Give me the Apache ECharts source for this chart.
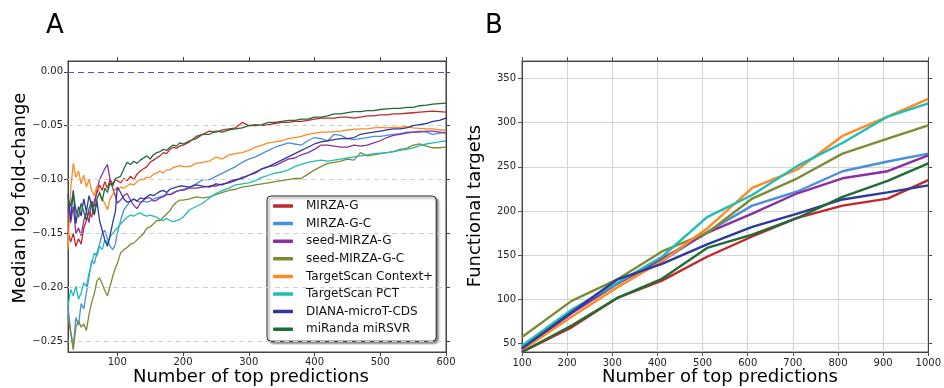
<!DOCTYPE html>
<html>
<head>
<meta charset="utf-8">
<script src="https://cdn.jsdelivr.net/npm/echarts@6/dist/echarts.min.js"></script>
<style>
html,body{margin:0;padding:0;background:#fff;}
#chart{width:944px;height:388px;}
</style>
</head>
<body>
<div id="chart"></div>
<script>
// ---------- Panel A data ----------
const xA = [25,29,33,37,41,45,49,53,57,61,65,69,73,77,81,85,89,93,97,
100,105,110,115,120,125,130,135,140,145,150,155,160,165,170,175,180,185,190,195,200,
210,220,230,240,250,260,270,280,290,300,310,320,330,340,350,360,370,380,390,400,
410,420,430,440,450,460,470,480,490,500,510,520,530,540,550,560,570,580,590,600];

const mirzaG_A = [-0.148,-0.158,-0.150,-0.162,-0.155,-0.160,-0.145,-0.138,-0.130,-0.135,-0.120,-0.112,-0.105,-0.110,-0.102,-0.108,-0.100,-0.104,-0.100,
-0.100,-0.103,-0.099,-0.101,-0.097,-0.100,-0.095,-0.092,-0.090,-0.088,-0.084,-0.082,-0.080,-0.078,-0.075,-0.076,-0.072,-0.070,-0.071,-0.069,-0.068,
-0.065,-0.060,-0.058,-0.055,-0.056,-0.054,-0.053,-0.052,-0.047,-0.050,-0.049,-0.050,-0.049,-0.048,-0.047,-0.047,-0.046,-0.046,-0.045,-0.044,
-0.043,-0.043,-0.043,-0.042,-0.042,-0.043,-0.042,-0.041,-0.041,-0.040,-0.040,-0.039,-0.039,-0.0385,-0.038,-0.0375,-0.037,-0.0365,-0.037,-0.0375];

const mirzaGC_A = [-0.218,-0.240,-0.255,-0.228,-0.235,-0.215,-0.220,-0.205,-0.190,-0.175,-0.178,-0.168,-0.160,-0.150,-0.147,-0.155,-0.162,-0.165,-0.160,
-0.150,-0.138,-0.128,-0.124,-0.120,-0.118,-0.120,-0.121,-0.120,-0.121,-0.120,-0.118,-0.117,-0.116,-0.115,-0.113,-0.114,-0.112,-0.111,-0.110,-0.109,
-0.107,-0.104,-0.100,-0.100,-0.097,-0.094,-0.091,-0.088,-0.084,-0.081,-0.079,-0.076,-0.073,-0.070,-0.068,-0.066,-0.067,-0.068,-0.064,-0.061,
-0.062,-0.064,-0.058,-0.059,-0.062,-0.063,-0.062,-0.061,-0.060,-0.060,-0.059,-0.058,-0.0575,-0.056,-0.056,-0.055,-0.056,-0.058,-0.057,-0.056];

const seedG_A = [-0.128,-0.140,-0.125,-0.150,-0.145,-0.152,-0.138,-0.130,-0.140,-0.120,-0.125,-0.110,-0.100,-0.095,-0.090,-0.086,-0.100,-0.108,-0.115,
-0.122,-0.119,-0.115,-0.113,-0.119,-0.124,-0.127,-0.122,-0.119,-0.117,-0.117,-0.120,-0.119,-0.117,-0.116,-0.114,-0.114,-0.113,-0.111,-0.110,-0.110,
-0.108,-0.108,-0.107,-0.106,-0.106,-0.104,-0.103,-0.101,-0.098,-0.096,-0.094,-0.090,-0.088,-0.087,-0.084,-0.081,-0.080,-0.077,-0.075,-0.072,
-0.068,-0.068,-0.069,-0.070,-0.070,-0.068,-0.069,-0.068,-0.066,-0.064,-0.061,-0.059,-0.058,-0.057,-0.056,-0.056,-0.055,-0.055,-0.056,-0.057];

const seedGC_A = [-0.227,-0.242,-0.258,-0.237,-0.231,-0.237,-0.234,-0.240,-0.225,-0.214,-0.206,-0.194,-0.191,-0.197,-0.203,-0.208,-0.199,-0.190,-0.182,
-0.178,-0.168,-0.165,-0.163,-0.160,-0.159,-0.156,-0.153,-0.150,-0.145,-0.144,-0.141,-0.138,-0.138,-0.135,-0.132,-0.129,-0.124,-0.121,-0.119,-0.119,
-0.118,-0.116,-0.117,-0.116,-0.114,-0.112,-0.110,-0.109,-0.107,-0.106,-0.105,-0.104,-0.103,-0.102,-0.101,-0.100,-0.099,-0.099,-0.095,-0.091,
-0.088,-0.085,-0.084,-0.083,-0.081,-0.082,-0.075,-0.078,-0.077,-0.076,-0.075,-0.074,-0.072,-0.071,-0.068,-0.067,-0.069,-0.0705,-0.0705,-0.070];

const contextPlus_A = [-0.165,-0.110,-0.085,-0.098,-0.092,-0.104,-0.096,-0.107,-0.100,-0.110,-0.115,-0.106,-0.112,-0.118,-0.122,-0.128,-0.118,-0.114,-0.108,
-0.110,-0.107,-0.108,-0.106,-0.104,-0.105,-0.102,-0.100,-0.100,-0.098,-0.098,-0.095,-0.094,-0.092,-0.094,-0.091,-0.091,-0.089,-0.088,-0.087,-0.088,
-0.088,-0.085,-0.084,-0.083,-0.079,-0.081,-0.077,-0.076,-0.075,-0.073,-0.070,-0.068,-0.066,-0.065,-0.064,-0.062,-0.061,-0.060,-0.058,-0.057,
-0.056,-0.056,-0.0555,-0.055,-0.054,-0.0535,-0.053,-0.053,-0.052,-0.0515,-0.052,-0.0515,-0.0515,-0.051,-0.052,-0.0525,-0.053,-0.053,-0.054,-0.054];

const pct_A = [-0.218,-0.202,-0.208,-0.199,-0.211,-0.205,-0.196,-0.199,-0.187,-0.178,-0.168,-0.171,-0.162,-0.165,-0.156,-0.159,-0.153,-0.150,-0.147,
-0.145,-0.141,-0.138,-0.135,-0.133,-0.134,-0.132,-0.131,-0.133,-0.134,-0.133,-0.134,-0.135,-0.137,-0.138,-0.136,-0.138,-0.139,-0.138,-0.137,-0.135,
-0.128,-0.125,-0.122,-0.117,-0.113,-0.110,-0.108,-0.105,-0.104,-0.103,-0.101,-0.098,-0.096,-0.094,-0.093,-0.091,-0.088,-0.086,-0.084,-0.083,
-0.082,-0.083,-0.082,-0.081,-0.080,-0.079,-0.078,-0.077,-0.076,-0.0755,-0.075,-0.074,-0.073,-0.072,-0.0705,-0.0685,-0.067,-0.066,-0.065,-0.064];

const diana_A = [-0.113,-0.138,-0.110,-0.141,-0.125,-0.134,-0.118,-0.130,-0.115,-0.124,-0.133,-0.120,-0.138,-0.147,-0.156,-0.162,-0.152,-0.140,-0.130,
-0.107,-0.112,-0.118,-0.121,-0.120,-0.118,-0.120,-0.117,-0.118,-0.116,-0.114,-0.115,-0.113,-0.111,-0.110,-0.112,-0.109,-0.108,-0.107,-0.106,-0.106,
-0.107,-0.105,-0.106,-0.107,-0.104,-0.105,-0.102,-0.100,-0.099,-0.096,-0.093,-0.090,-0.088,-0.085,-0.082,-0.079,-0.076,-0.073,-0.070,-0.067,
-0.065,-0.064,-0.063,-0.062,-0.062,-0.061,-0.058,-0.057,-0.056,-0.055,-0.054,-0.053,-0.053,-0.052,-0.050,-0.049,-0.048,-0.046,-0.045,-0.043];

const miranda_A = [-0.118,-0.125,-0.112,-0.128,-0.135,-0.122,-0.130,-0.138,-0.127,-0.120,-0.132,-0.118,-0.112,-0.120,-0.108,-0.112,-0.103,-0.106,-0.099,
-0.100,-0.097,-0.090,-0.084,-0.086,-0.083,-0.085,-0.082,-0.080,-0.078,-0.081,-0.077,-0.075,-0.074,-0.072,-0.073,-0.070,-0.068,-0.069,-0.066,-0.067,
-0.064,-0.062,-0.058,-0.058,-0.055,-0.056,-0.054,-0.053,-0.052,-0.050,-0.050,-0.049,-0.047,-0.047,-0.046,-0.045,-0.045,-0.044,-0.044,-0.042,
-0.042,-0.041,-0.039,-0.039,-0.038,-0.037,-0.037,-0.036,-0.036,-0.035,-0.0345,-0.034,-0.034,-0.033,-0.033,-0.0315,-0.031,-0.030,-0.0295,-0.029];

const xTicksA = [100,200,300,400,500,600];
const yTicksA = [-0.25,-0.20,-0.15,-0.10,-0.05,0.00];
const yGridA = [-0.25,-0.20,-0.15,-0.10,-0.05];

// ---------- Panel B data ----------
const xB = [100,210,310,410,510,610,710,810,910,1000];
const mirzaG_B      = [40,68,101,121,148,171,192,206,214,235];
const mirzaGC_B     = [45,86,118,143,176,206,222,245,256,265];
const seedG_B       = [43,84,117,146,175,197,220,237,245,263];
const seedGC_B      = [57,98,122,154,175,214,237,265,282,297];
const contextPlus_B = [42,80,113,143,180,226,247,285,307,327];
const pct_B         = [47,88,118,148,193,218,251,277,307,322];
const diana_B       = [44,85,122,140,162,182,197,213,221,229];
const miranda_B     = [40,70,101,123,158,173,192,216,234,254];
const xTicksB = [100,200,300,400,500,600,700,800,900,1000];
const yTicksB = [50,100,150,200,250,300,350];

const names = ['MIRZA-G','MIRZA-G-C','seed-MIRZA-G','seed-MIRZA-G-C','TargetScan Context+','TargetScan PCT','DIANA-microT-CDS','miRanda miRSVR'];
const colors = ['#c0282c','#4a8fdc','#8c2fa2','#7e8b32','#ff8a22','#1fbdb6','#2d3a9c','#1e6c36'];
const seriesA = [mirzaG_A, mirzaGC_A, seedG_A, seedGC_A, contextPlus_A, pct_A, diana_A, miranda_A];
const seriesB = [mirzaG_B, mirzaGC_B, seedG_B, seedGC_B, contextPlus_B, pct_B, diana_B, miranda_B];

const FONT = 'DejaVu Sans';
const minus = v => (v < 0 ? '\u2212' : '') + Math.abs(v).toFixed(2);
const plain = v => String(v);

const chart = echarts.init(document.getElementById('chart'), null, {renderer: 'canvas'});

const series = [];
series.push({
  type: 'line', xAxisIndex: 0, yAxisIndex: 0, data: [], z: 1, silent: true,
  markLine: {
    silent: true, symbol: 'none', animation: false,
    label: {show: false},
    lineStyle: {color: '#d0d0d0', type: [5, 4], width: 1},
    data: yGridA.map(v => ({yAxis: v}))
  }
});
series.push({
  type: 'line', xAxisIndex: 0, yAxisIndex: 0, data: [], z: 1, silent: true,
  markLine: {
    silent: true, symbol: 'none', animation: false,
    label: {show: false},
    lineStyle: {color: '#3f5ccc', type: [6, 4], width: 1},
    data: [{yAxis: 0}]
  }
});
names.forEach((n, i) => {
  series.push({
    name: n, type: 'line', xAxisIndex: 0, yAxisIndex: 0,
    data: xA.map((x, j) => [x, seriesA[i][j]]),
    showSymbol: false, symbol: 'none', color: colors[i],
    lineStyle: {width: 1.3, color: colors[i]}, z: 2 + i
  });
});
names.forEach((n, i) => {
  series.push({
    name: n, type: 'line', xAxisIndex: 2, yAxisIndex: 2,
    data: xB.map((x, j) => [x, seriesB[i][j]]),
    showSymbol: false, symbol: 'none', color: colors[i],
    lineStyle: {width: 2.4, color: colors[i]}, z: 2 + i
  });
});

const axisLine = {show: true, onZero: false, lineStyle: {color: '#444', width: 1}};
const labelStyle = {color: '#222', fontFamily: FONT, fontSize: 10};

const option = {
  animation: false,
  backgroundColor: '#ffffff',
  grid: [
    {left: 68, top: 61, width: 378, height: 291, show: true, borderColor: '#444', borderWidth: 1, backgroundColor: 'transparent'},
    {left: 522, top: 61, width: 407, height: 291, show: true, borderColor: '#555', borderWidth: 1, backgroundColor: 'transparent'}
  ],
  xAxis: [
    {type: 'value', gridIndex: 0, min: 25, max: 600, position: 'bottom',
     axisLine: axisLine,
     axisTick: {show: true, inside: false, length: 4, customValues: xTicksA, lineStyle: {color: '#444'}},
     axisLabel: {customValues: xTicksA, margin: 5, formatter: plain, ...labelStyle},
     splitLine: {show: false}},
    {type: 'value', gridIndex: 0, min: 25, max: 600, position: 'top',
     axisLine: axisLine,
     axisTick: {show: true, inside: false, length: 4, customValues: xTicksA, lineStyle: {color: '#444'}},
     axisLabel: {show: false}, splitLine: {show: false}},
    {type: 'value', gridIndex: 1, min: 100, max: 1000, position: 'bottom',
     axisLine: axisLine,
     axisTick: {show: true, inside: false, length: 4, customValues: xTicksB, lineStyle: {color: '#555'}},
     axisLabel: {customValues: xTicksB, margin: 6, formatter: plain, ...labelStyle},
     splitLine: {show: true, lineStyle: {color: '#d4d4d4', width: 1}}},
    {type: 'value', gridIndex: 1, min: 100, max: 1000, position: 'top',
     axisLine: axisLine,
     axisTick: {show: true, inside: false, length: 4, customValues: xTicksB, lineStyle: {color: '#555'}},
     axisLabel: {show: false}, splitLine: {show: false}}
  ],
  yAxis: [
    {type: 'value', gridIndex: 0, min: -0.26, max: 0.01, position: 'left',
     axisLine: axisLine,
     axisTick: {show: true, inside: false, length: 4, customValues: yTicksA, lineStyle: {color: '#444'}},
     axisLabel: {customValues: yTicksA, margin: 5, formatter: minus, ...labelStyle},
     splitLine: {show: false}},
    {type: 'value', gridIndex: 0, min: -0.26, max: 0.01, position: 'right',
     axisLine: axisLine,
     axisTick: {show: true, inside: false, length: 4, customValues: yTicksA, lineStyle: {color: '#444'}},
     axisLabel: {show: false}, splitLine: {show: false}},
    {type: 'value', gridIndex: 1, min: 40, max: 370, position: 'left',
     axisLine: axisLine,
     axisTick: {show: true, inside: false, length: 4, customValues: yTicksB, lineStyle: {color: '#555'}},
     axisLabel: {customValues: yTicksB, margin: 6, formatter: plain, ...labelStyle},
     splitLine: {show: true, lineStyle: {color: '#d4d4d4', width: 1}}},
    {type: 'value', gridIndex: 1, min: 40, max: 370, position: 'right',
     axisLine: axisLine,
     axisTick: {show: true, inside: false, length: 4, customValues: yTicksB, lineStyle: {color: '#555'}},
     axisLabel: {show: false}, splitLine: {show: false}}
  ],
  legend: {
    data: names,
    orient: 'vertical',
    left: 267, top: 196,
    padding: [3, 3, 5, 6],
    itemWidth: 20, itemHeight: 3.5, itemGap: 3.6,
    icon: 'roundRect',
    backgroundColor: '#ffffff',
    borderColor: '#222', borderWidth: 1, borderRadius: 4,
    shadowColor: 'rgba(0,0,0,0.45)', shadowBlur: 2, shadowOffsetX: 2, shadowOffsetY: 2,
    textStyle: {fontFamily: FONT, fontSize: 12, color: '#111', lineHeight: 14, padding: [0, 0, 0, 8]},
    selectedMode: false
  },
  graphic: [
    {type: 'text', x: 55, y: 26, style: {text: 'A', font: '26px "DejaVu Sans"', fill: '#000', textAlign: 'center', textVerticalAlign: 'middle'}},
    {type: 'text', x: 494, y: 26, style: {text: 'B', font: '26px "DejaVu Sans"', fill: '#000', textAlign: 'center', textVerticalAlign: 'middle'}},
    {type: 'text', x: 20, y: 198, rotation: Math.PI / 2, style: {text: 'Median log fold-change', font: '18px "DejaVu Sans"', fill: '#000', textAlign: 'center', textVerticalAlign: 'middle'}},
    {type: 'text', x: 475, y: 206, rotation: Math.PI / 2, style: {text: 'Functional targets', font: '18px "DejaVu Sans"', fill: '#000', textAlign: 'center', textVerticalAlign: 'middle'}},
    {type: 'text', x: 251, y: 377, style: {text: 'Number of top predictions', font: '18px "DejaVu Sans"', fill: '#000', textAlign: 'center', textVerticalAlign: 'middle'}},
    {type: 'text', x: 720, y: 377, style: {text: 'Number of top predictions', font: '18px "DejaVu Sans"', fill: '#000', textAlign: 'center', textVerticalAlign: 'middle'}}
  ],
  series: series
};
chart.setOption(option);
</script>
</body>
</html>
